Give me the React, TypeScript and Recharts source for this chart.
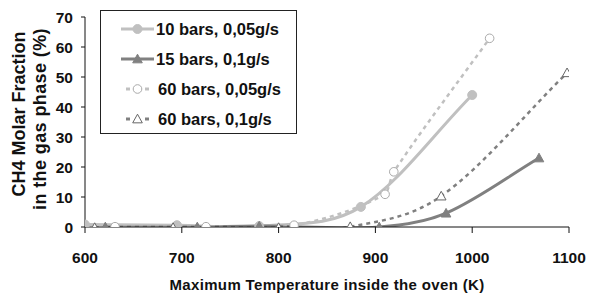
import { LineChart, Line, XAxis, YAxis } from 'recharts'

// 10 bars, 0,05g/s
const temp10bar005 = [600, 695, 780, 885, 1000]
const ch4_10bar005 = [0.8, 0.6, 0.3, 6.7, 44]
// 15 bars, 0,1g/s
const temp15bar01 = [621, 716, 780, 904, 973, 1069]
const ch4_15bar01 = [0, 0, 0.3, 0, 4.6, 23]
// 60 bars, 0,05g/s
const temp60bar005 = [631, 725, 816, 910, 919, 1018]
const ch4_60bar005 = [0.1, 0.1, 0.6, 10.9, 18.4, 62.9]
// 60 bars, 0,1g/s
const temp60bar01 = [610, 691, 800, 874, 968, 1098]
const ch4_60bar01 = [-0.2, -0.2, -0.2, 0.1, 10.3, 51.4]

const xTicks = [600, 700, 800, 900, 1000, 1100]
const yTicks = [0, 10, 20, 30, 40, 50, 60, 70]

const LIGHT = '#c0c0c0'
const DARK = '#808080'
const FONT = '"Liberation Sans", Arial, sans-serif'

const toPoints = (xs: number[], ys: number[]) => xs.map((t, i) => ({ t, v: ys[i] }))

const series = [
  { name: '10 bars, 0,05g/s', data: toPoints(temp10bar005, ch4_10bar005), color: LIGHT, dash: undefined, marker: 'circle', filled: true },
  { name: '15 bars, 0,1g/s', data: toPoints(temp15bar01, ch4_15bar01), color: DARK, dash: undefined, marker: 'triangle', filled: true },
  { name: '60 bars, 0,05g/s', data: toPoints(temp60bar005, ch4_60bar005), color: LIGHT, dash: '4 4', marker: 'circle', filled: false },
  { name: '60 bars, 0,1g/s', data: toPoints(temp60bar01, ch4_60bar01), color: DARK, dash: '4 4', marker: 'triangle', filled: false },
]

// smoothed line like a spreadsheet "smoothed line": cubic Hermite, tangents from neighbours
function smoothCurve(context: any) {
  let xs: number[] = []
  let ys: number[] = []
  return {
    areaStart() {},
    areaEnd() {},
    lineStart() {
      xs = []
      ys = []
    },
    point(x: number, y: number) {
      xs.push(+x)
      ys.push(+y)
    },
    lineEnd() {
      const n = xs.length
      if (!n) return
      context.moveTo(xs[0], ys[0])
      if (n === 1) return
      const m = xs.map((_, i) => {
        const a = Math.max(0, i - 1)
        const b = Math.min(n - 1, i + 1)
        return (ys[b] - ys[a]) / (xs[b] - xs[a])
      })
      for (let i = 0; i < n - 1; i++) {
        const dx = (xs[i + 1] - xs[i]) / 3
        context.bezierCurveTo(xs[i] + dx, ys[i] + m[i] * dx, xs[i + 1] - dx, ys[i + 1] - m[i + 1] * dx, xs[i + 1], ys[i + 1])
      }
    },
  }
}

function Marker({ cx, cy, kind, filled, color }: any) {
  if (cx == null || cy == null) return null
  if (kind === 'circle') {
    return filled
      ? <circle cx={cx} cy={cy} r={4.5} fill={color} stroke={color} />
      : <circle cx={cx} cy={cy} r={4.3} fill="#fff" stroke="#aaa" strokeWidth={1} />
  }
  const s = 4.8
  const pts = `${cx},${cy - s} ${cx + s},${cy + s * 0.8} ${cx - s},${cy + s * 0.8}`
  return filled
    ? <polygon points={pts} fill={color} stroke={color} />
    : <polygon points={pts} fill="#fff" stroke="#666" strokeWidth={1} />
}

function LegendBox() {
  return (
    <div style={{ position: 'absolute', left: 100, top: 10, border: '1px solid #222', width: 197, height: 124, boxSizing: 'border-box', background: '#fff', paddingTop: 3 }}>
      {series.map(s => (
        <div key={s.name} style={{ display: 'flex', alignItems: 'center', height: 30 }}>
          <svg width={55} height={14} style={{ flex: 'none' }}>
            {s.dash ? (
              <>
                <line x1={25} y1={7} x2={29} y2={7} stroke={s.color} strokeWidth={3} />
                <line x1={44} y1={7} x2={48} y2={7} stroke={s.color} strokeWidth={3} />
              </>
            ) : (
              <line x1={20} y1={7} x2={53} y2={7} stroke={s.color} strokeWidth={3} />
            )}
            <Marker cx={36.5} cy={7} kind={s.marker} filled={s.filled} color={s.color} />
          </svg>
          <span style={{ fontFamily: FONT, fontWeight: 700, fontSize: 16.5, color: '#111', marginLeft: s.dash ? 2 : 0 }}>
            {s.name}
          </span>
        </div>
      ))}
    </div>
  )
}

function YLabel({ viewBox }: any) {
  const cy = viewBox.y + viewBox.height / 2
  const style = { fontFamily: FONT, fontWeight: 700, fontSize: 18, fill: '#111' }
  const y1 = cy - 8
  const y2 = cy - 3
  return (
    <g>
      <text x={19} y={y1} transform={`rotate(-90 19 ${y1})`} textAnchor="middle" dominantBaseline="central" style={style}>
        CH4 Molar Fraction
      </text>
      <text x={40} y={y2} transform={`rotate(-90 40 ${y2})`} textAnchor="middle" dominantBaseline="central" style={{ ...style, letterSpacing: 0.4 }}>
        in the gas phase (%)
      </text>
    </g>
  )
}

export default function App() {
  const tickStyle = { fontFamily: FONT, fontWeight: 700, fontSize: 15.5, fill: '#111' }
  return (
    <div style={{ position: 'absolute', left: 0, top: 0, width: 589, height: 298, background: '#fff' }}>
      <LineChart width={589} height={298} margin={{ top: 17, right: 20, bottom: 0, left: 0 }}>
        <XAxis
          type="number"
          dataKey="t"
          domain={[600, 1100]}
          ticks={xTicks}
          allowDataOverflow
          height={71}
          stroke="#111"
          tickSize={6}
          tickMargin={19}
          tick={tickStyle}
          label={{
            value: 'Maximum Temperature inside the oven (K)',
            position: 'insideBottom',
            offset: 8,
            style: { ...tickStyle, fontSize: 15, letterSpacing: 0.35 },
          }}
        />
        <YAxis
          type="number"
          domain={[0, 70]}
          ticks={yTicks}
          allowDataOverflow
          width={85}
          stroke="#111"
          tickSize={4}
          tickMargin={8}
          tick={tickStyle}
          label={<YLabel />}
        />
        {series.map(s => (
          <Line
            key={s.name}
            data={s.data}
            dataKey="v"
            name={s.name}
            type={smoothCurve as any}
            stroke={s.color}
            strokeWidth={s.dash ? 2.5 : 3}
            strokeDasharray={s.dash}
            dot={(p: any) => <Marker key={`${s.name}-${p.index}`} cx={p.cx} cy={p.cy} kind={s.marker} filled={s.filled} color={s.color} />}
            activeDot={false}
            isAnimationActive={false}
          />
        ))}
      </LineChart>
      <LegendBox />
    </div>
  )
}
